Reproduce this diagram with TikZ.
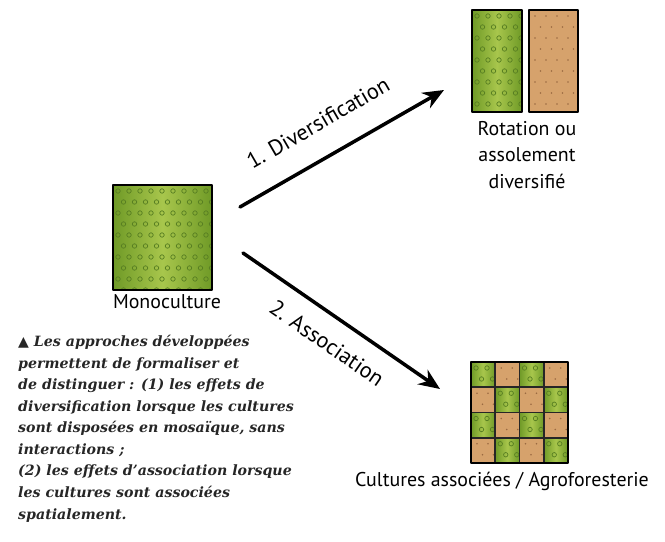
\documentclass[tikz,border=0pt]{standalone}
\usepackage{fontspec}
\usepackage{xcolor}
\usepackage{tikz}
\usetikzlibrary{arrows.meta}
\newfontfamily\tagfont{PT Sans}
\newfontfamily\notefont{DejaVu Serif}
\newfontfamily\symfont{DejaVu Sans}

\definecolor{leafdark}{HTML}{6F9A27}
\definecolor{leaflight}{HTML}{A8C64C}
\definecolor{ringc}{HTML}{587F22}
\definecolor{soil}{HTML}{D6A26C}
\definecolor{soildot}{HTML}{9A6A42}

% champ vert (x0,y0,x1,y1 en px, y vers le bas ; #5,#6 = colonnes, rangs)
\newcommand{\leafpatch}[6]{%
  \begin{scope}
    \clip (#1,-#2) rectangle (#3,-#4);
    \shade[left color=leafdark, right color=leafdark, middle color=leaflight] (#1,-#2) rectangle (#3,-#4);
    \foreach \i in {0,...,#5}{
      \foreach \j in {0,...,#6}{
        \draw[ring] ({#1+5+11*\i+5.5*mod(\j,2)},{-#2-6-11*\j}) circle (1.9pt);
      }
    }
  \end{scope}}
% champ brun
\newcommand{\soilpatch}[6]{%
  \begin{scope}
    \clip (#1,-#2) rectangle (#3,-#4);
    \fill[soil] (#1,-#2) rectangle (#3,-#4);
    \foreach \i in {0,...,#5}{
      \foreach \j in {0,...,#6}{
        \fill[soildot] ({#1+6+11*\i+5.5*mod(\j,2)},{-#2-6-11*\j}) circle (0.8pt);
      }
    }
  \end{scope}}

\begin{document}
\begin{tikzpicture}[x=0.03cm,y=0.03cm, line cap=round, line join=round,
    ring/.style={draw=ringc, line width=0.6pt},
    edge/.style={draw=black, line width=2.2pt},
    cellline/.style={draw=black!85, line width=1.3pt},
    flow/.style={draw=black, line width=3pt, -{Stealth[length=18pt,width=15pt]}},
    tag/.style={font=\tagfont\fontsize{17}{20}\selectfont, inner sep=0pt},
    slant/.style={font=\tagfont\fontsize{19}{22}\selectfont, inner sep=0pt},
    note/.style={font=\notefont\bfseries\itshape\fontsize{12.1}{18.4}\selectfont, align=left, inner sep=0pt, text=black!85}]
  \useasboundingbox (0,0) rectangle (665,-542);

  % ===== monoculture =====
  \leafpatch{113}{185}{212}{290}{9}{9}
  \draw[edge] (113,-185) rectangle (212,-290);
  \node[tag] (mono) at (167,-302) {Monoculture};

  % ===== rotation =====
  \leafpatch{472}{10}{522}{112}{4}{9}
  \draw[edge] (472,-10) rectangle (522,-112);
  \soilpatch{529}{10}{578}{112}{4}{9}
  \draw[edge] (529,-10) rectangle (578,-112);
  \node[tag, align=center, font=\tagfont\fontsize{17}{22.5}\selectfont] (rot) at (527,-155) {Rotation ou\\assolement\\diversifié};

  % ===== association : damier 4 x 4 =====
  \foreach \r in {0,...,3}{
    \foreach \c in {0,...,3}{
      \pgfmathsetmacro{\xa}{471+24.25*\c}
      \pgfmathsetmacro{\xb}{471+24.25*(\c+1)}
      \pgfmathsetmacro{\ya}{362+25.25*\r}
      \pgfmathsetmacro{\yb}{362+25.25*(\r+1)}
      \pgfmathtruncatemacro{\odd}{mod(\r+\c,2)}
      \ifnum\odd=0
        \leafpatch{\xa}{\ya}{\xb}{\yb}{2}{2}
      \else
        \soilpatch{\xa}{\ya}{\xb}{\yb}{2}{2}
      \fi
    }
  }
  \foreach \k in {1,2,3}{
    \draw[cellline] ({471+24.25*\k},-362) -- ({471+24.25*\k},-463);
    \draw[cellline] (471,{-362-25.25*\k}) -- (568,{-362-25.25*\k});
  }
  \draw[edge, line width=1.8pt] (471,-362) rectangle (568,-463);
  \node[tag] (asso) at (502,-481) {Cultures associées / Agroforesterie};

  % ===== flèches =====
  \coordinate (d1a) at (240,-207);
  \coordinate (d1b) at (444,-90);
  \coordinate (d2a) at (243,-253);
  \coordinate (d2b) at (440,-389);
  \draw[flow] (d1a) -- (d1b);
  \draw[flow] (d2a) -- (d2b);
  \node[slant, rotate=30] (lab1) at (318,-123) {1. Diversification};
  \node[slant, rotate=-34.6] (lab2) at (327,-343) {2. Association};

  % ===== légende =====
  \node[note, anchor=north west] (cap) at (18,-335) {{\symfont\mdseries\upshape\fontsize{12}{18.4}\selectfont ▲} Les approches développées\\
    permettent de formaliser et\\
    de distinguer : (1) les effets de\\
    diversification lorsque les cultures\\
    sont disposées en mosaïque, sans\\
    interactions ;\\
    (2) les effets d’association lorsque\\
    les cultures sont associées\\
    spatialement.};
\end{tikzpicture}
\end{document}
